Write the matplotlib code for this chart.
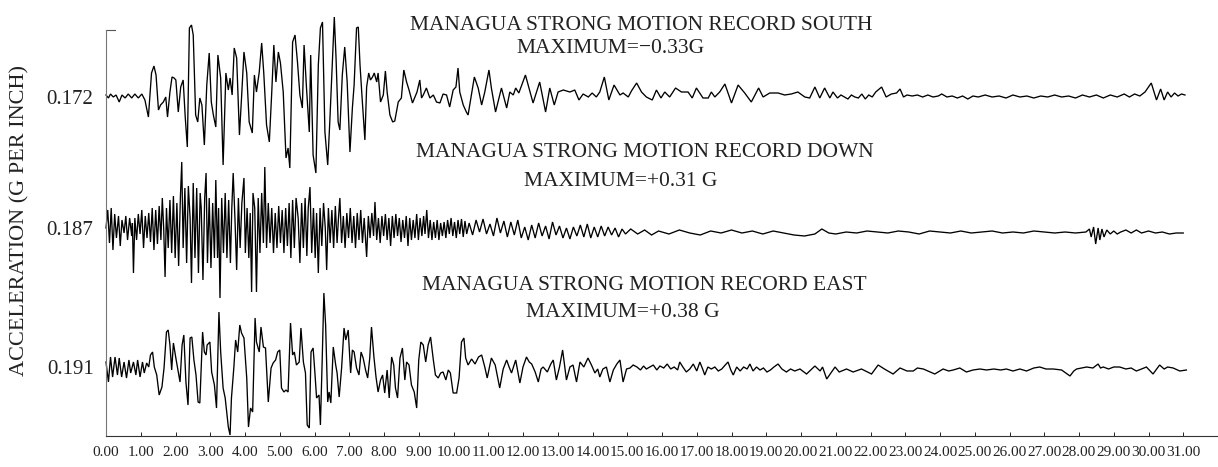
import matplotlib
matplotlib.use("Agg")
import matplotlib.pyplot as plt

plt.rcParams['font.family'] = ['Liberation Serif', 'DejaVu Serif']

# ---------------- data (time in s, deflection in plot units) ----------------
south_t = [0.00,0.07,0.13,0.21,0.29,0.38,0.46,0.55,0.64,0.74,0.83,0.93,1.03,1.12,1.22,1.31,1.38,1.44,1.51,1.57,
           1.65,1.72,1.77,1.84,1.90,1.96,2.01,2.08,2.15,2.22,2.28,2.34,2.40,2.46,2.51,2.58,2.64,2.70,2.76,2.83,
           2.90,2.97,3.03,3.09,3.16,3.22,3.30,3.37,3.45,3.52,3.57,3.63,3.69,3.76,3.84,3.90,3.97,4.05,4.12,4.21,
           4.27,4.33,4.41,4.48,4.54,4.62,4.70,4.77,4.83,4.89,4.96,5.02,5.10,5.18,5.24,5.29,5.37,5.44,5.51,5.58,
           5.65,5.70,5.77,5.85,5.89,5.96,6.04,6.11,6.17,6.23,6.30,6.38,6.44,6.51,6.57,6.62,6.68,6.73,6.80,6.87,
           6.94,7.02,7.09,7.14,7.21,7.26,7.31,7.37,7.45,7.50,7.56,7.61,7.67,7.72,7.79,7.83,7.90,7.98,8.04,8.09,
           8.17,8.25,8.31,8.41,8.50,8.57,8.65,8.72,8.82,8.89,8.95,9.03,9.08,9.13,9.22,9.32,9.42,9.51,9.61,9.70,
           9.80,9.89,9.99,10.07,10.13,10.18,10.28,10.37,
           10.42,10.60,10.71,10.81,10.90,11.02,11.09,11.21,11.38,11.53,
           11.62,11.72,11.79,11.88,12.07,12.29,12.48,12.65,12.77,12.90,
           13.01,13.16,13.35,13.49,13.61,13.73,13.88,13.99,14.11,14.21,
           14.34,14.47,14.62,14.79,14.88,15.03,15.12,15.27,15.41,15.55,
           15.72,15.84,15.97,16.08,16.22,16.39,16.56,16.75,16.87,16.99,
           17.18,17.33,17.42,17.52,17.66,17.81,18.00,18.19,18.38,18.57,
           18.78,18.91,19.10,19.34,19.53,19.72,19.91,20.11,20.25,20.40,
           20.54,20.68,20.83,20.92,
           21.05,21.15,21.25,21.35,21.45,21.55,21.65,21.75,21.85,21.95,22.05,
           22.15,22.32,22.45,22.60,22.75,22.85,22.95,23.05,23.20,23.35,23.50,23.65,23.80,23.95,24.05,24.20,24.35,
           24.50,24.65,24.80,24.95,25.10,25.30,25.50,25.70,25.90,26.10,26.30,26.50,26.70,26.90,27.10,27.30,27.50,
           27.70,27.90,28.10,28.30,28.50,28.70,28.90,29.10,29.30,29.45,29.60,29.75,29.90,30.08,30.23,30.35,30.45,
           30.55,30.65,30.75,30.85,30.95,31.05]
south_a = [2,-1,3,0,2,-5,2,-1,3,-1,3,-1,3,-3,-20,24,31,22,-13,-8,
           -5,0,-20,5,20,19,17,-15,10,17,-20,-50,69,72,62,-18,-25,-1,-8,-48,
           12,44,-5,-18,-30,42,19,-68,24,7,19,2,49,39,-38,-1,45,24,-25,-36,
           22,5,25,54,24,-28,-45,5,52,15,45,34,5,-61,-51,-71,55,62,35,2,
           -11,52,9,-35,42,-58,-76,32,69,75,-35,-68,-25,32,80,39,-25,-33,22,50,
           15,-55,-11,12,69,70,32,-1,-43,10,24,17,20,24,15,24,-5,2,26,5,
           -18,-25,-24,-5,-1,27,15,7,-6,0,5,17,-1,2,9,-1,2,-5,-6,3,
           2,-10,7,10,29,5,-8,-15,
           -18,20,9,-8,5,27,9,-15,9,-11,
           5,2,9,4,22,-6,15,-15,9,-8,
           5,7,5,7,-3,3,0,4,0,5,
           20,-3,12,2,4,0,6,14,5,0,
           -3,7,-1,5,0,9,5,5,-1,9,
           -1,-1,5,0,5,13,-6,12,4,-5,
           9,0,4,4,2,3,5,0,-1,10,
           -1,9,-1,5,
           -1,2,0,-2,2,0,-1,3,-2,2,0,
           5,10,0,3,4,8,0,2,1,2,0,2,0,1,3,0,1,
           -1,1,-2,1,0,2,0,1,-1,2,0,1,-1,1,0,2,0,
           1,-1,2,0,2,-1,2,0,3,0,3,1,5,14,-3,8,-3,
           5,0,4,1,3,2]

down_t = [0.00,0.05,0.10,0.15,0.20,0.25,0.30,0.36,0.41,0.46,0.52,0.57,0.62,0.68,0.74,0.76,0.79,0.83,0.88,0.93,
          0.98,1.03,1.08,1.13,1.18,1.23,1.28,1.33,1.38,1.43,1.48,1.53,1.58,1.62,1.66,1.70,1.74,1.79,1.84,1.89,
          1.94,1.99,2.04,2.09,2.14,2.18,2.22,2.27,2.32,2.37,2.42,2.46,2.51,2.56,2.61,2.66,2.71,2.74,2.79,2.84,
          2.88,2.92,2.97,3.02,3.07,3.12,3.16,3.21,3.24,3.28,3.33,3.38,3.43,3.48,3.53,3.58,3.62,3.66,3.71,3.76,
          3.81,3.86,3.91,3.97,4.01,4.06,4.11,4.15,4.19,4.23,4.28,4.33,4.38,4.43,4.48,4.53,4.57,4.62,4.67,4.72,
          4.77,4.82,4.87,4.92,4.97,5.02,5.07,5.12,5.17,5.22,5.27,5.32,5.37,5.42,5.47,5.53,5.58,5.63,5.68,5.73,
          5.78,5.82,5.87,5.92,5.97,6.02,6.06,6.11,6.16,6.21,6.26,6.31,6.35,6.40,6.45,6.50,6.55,6.60,6.65,6.69,
          6.73,6.78,6.83,6.88,6.93,6.98,7.03,7.08,7.13,7.18,7.23,7.28,7.33,7.38,7.43,7.50,7.55,7.60,7.65,7.70,
          7.74,7.79,7.84,7.89,7.94,7.99,8.04,8.09,8.14,8.19,8.24,8.29,8.34,8.39,8.44,8.49,8.54,8.59,8.64,8.69,
          8.74,8.79,8.84,8.89,8.94,8.99,9.04,9.09,9.14,9.18,9.23,9.28,9.33,9.38,9.43,9.48,9.53,9.58,9.63,9.68,
          9.73,9.78,9.83,9.88,9.93,9.98,10.03,10.08,10.13,10.18,10.23,10.28,10.33,10.38,
          10.45,10.55,10.65,10.75,10.85,10.95,11.05,11.15,11.25,11.35,11.45,11.55,11.65,11.75,11.85,11.95,
          12.05,12.15,12.25,12.35,12.45,12.55,12.65,12.75,12.85,12.95,13.05,13.15,13.25,13.35,13.45,13.55,
          13.65,13.75,13.85,13.95,14.05,14.15,14.25,14.35,14.45,14.55,14.65,14.75,14.85,14.95,15.10,15.30,
          15.50,15.70,15.90,16.20,16.50,16.80,17.10,17.40,17.70,18.00,18.30,18.60,18.90,19.20,19.50,19.80,
          20.10,20.40,20.60,20.80,21.00,21.30,21.60,21.90,22.20,22.50,22.80,23.10,23.40,23.70,24.00,24.30,
          24.60,24.90,25.20,25.50,25.80,26.10,26.40,26.70,27.00,27.30,27.60,27.90,28.20,28.30,28.35,28.42,
          28.48,28.55,28.60,28.66,28.72,28.80,28.90,29.00,29.10,29.20,29.35,29.50,29.65,29.80,30.00,30.20,
          30.40,30.60,30.80,31.00]
down_a = [0,18,-15,20,-22,14,-10,12,-18,8,-5,12,-12,10,-8,5,-45,10,-12,14,
          -6,18,-20,12,-10,15,-14,20,-22,18,-16,22,-12,30,0,-49,20,-20,28,-25,
          32,-30,25,-38,30,66,-20,40,-35,42,10,-55,45,-30,40,-45,35,20,-52,30,
          55,-35,30,-40,25,-30,48,-30,20,-70,30,-25,35,-30,28,-35,20,55,10,-42,
          30,-20,25,50,-25,20,-30,15,-64,35,20,-64,30,-25,35,-15,61,-20,25,-15,
          20,-25,15,-20,22,-15,18,-25,20,-18,25,-30,28,-20,30,10,-35,25,-20,30,
          -28,20,41,-25,20,-30,15,-45,20,-18,25,0,-42,20,-15,18,-20,22,-15,10,
          30,-15,12,-20,15,-10,20,-15,12,-20,15,-12,18,-15,10,-29,12,-10,15,-8,
          26,-12,10,-15,12,-8,14,-12,10,-18,12,-10,14,-8,10,-14,8,-10,12,-18,
          10,-12,8,-10,14,-12,10,-8,12,-6,18,-10,8,-12,6,-10,8,-12,5,-8,
          6,-10,8,-6,10,-8,6,-10,8,-6,9,-9,7,-6,
          5,-7,8,-4,9,-6,4,-8,10,-5,7,-9,6,-7,8,-10,
          1,-12,3,-10,5,-8,2,-11,6,-7,2,-10,0,-11,1,-8,
          3,-9,4,-10,1,-9,2,-8,1,-7,0,-9,-1,-6,-1,-6,
          -2,-7,-3,-6,-2,-5,-7,-3,-5,-2,-5,-3,-6,-3,-5,-7,
          -8,-6,-1,-5,-6,-4,-5,-3,-4,-5,-3,-4,-6,-3,-4,-5,
          -3,-5,-4,-3,-5,-4,-5,-3,-4,-5,-4,-5,-4,-1,-9,1,
          -16,0,-12,-1,-9,-2,-6,-3,-6,-4,-2,-5,-2,-5,-3,-5,
          -4,-6,-5,-5]

east_t = [0.00,0.07,0.13,0.19,0.26,0.33,0.38,0.45,0.52,0.59,0.66,0.71,0.79,0.86,0.91,0.98,1.05,1.10,1.17,1.23,
          1.28,1.34,1.39,1.46,1.53,1.61,1.67,1.74,1.79,1.84,1.89,1.94,2.01,2.08,2.13,2.19,2.24,2.30,2.36,2.42,
          2.47,2.53,2.59,2.65,2.70,2.78,2.83,2.88,2.91,2.99,3.04,3.12,3.18,3.25,3.30,3.37,3.43,3.52,3.57,3.61,
          3.68,3.73,3.79,3.85,3.90,3.97,4.05,4.10,4.16,4.22,4.29,4.33,4.41,4.46,4.53,4.59,4.67,4.75,4.81,4.88,
          4.94,5.00,5.05,5.12,5.18,5.24,5.31,5.37,5.42,5.48,5.56,5.61,5.68,5.74,5.79,5.85,5.90,5.96,6.01,6.06,
          6.13,6.17,6.22,6.27,6.32,6.38,6.42,6.47,6.54,6.61,6.65,6.71,6.78,6.85,6.90,6.97,7.04,7.09,7.14,7.21,
          7.28,7.34,7.40,7.47,7.53,7.59,7.64,7.71,7.77,7.83,7.90,7.96,8.02,8.09,8.15,8.22,8.28,8.33,8.39,8.46,
          8.53,8.60,8.65,8.72,8.79,8.87,8.94,9.00,9.06,9.13,9.20,9.27,9.34,9.42,9.48,9.56,9.63,9.70,9.78,9.85,
          9.91,9.99,10.09,10.16,10.23,10.30,10.35,10.42,
          10.52,10.62,10.72,10.81,10.90,10.97,11.09,11.20,11.33,11.43,11.53,11.60,11.67,11.79,11.91,12.00,
          12.10,12.18,12.25,12.35,12.44,12.52,12.58,12.70,12.80,12.87,12.96,13.05,13.14,13.25,13.35,13.44,
          13.54,13.64,13.75,13.87,13.97,14.07,14.15,14.21,14.30,14.40,14.50,14.60,14.70,14.79,14.88,14.98,
          15.08,15.17,15.28,15.38,15.47,15.55,15.65,15.75,15.85,15.94,16.05,16.15,16.25,16.35,16.45,16.51,
          16.60,16.70,16.80,16.90,17.00,17.09,17.18,17.23,17.32,17.42,17.52,17.62,17.72,17.82,17.90,17.98,
          18.05,18.15,18.25,18.35,18.45,18.53,18.62,18.72,18.82,18.92,19.02,19.12,19.22,19.34,19.45,19.58,
          19.70,19.82,19.97,20.16,20.40,20.55,20.62,20.74,20.98,21.10,21.31,21.50,21.74,22.03,22.22,22.40,
          22.65,22.85,23.05,23.23,23.35,23.52,23.85,24.09,24.25,24.38,24.57,24.76,24.95,25.15,25.34,25.55,
          25.75,25.91,26.10,26.30,26.49,26.70,26.87,27.05,27.26,27.50,27.74,27.85,27.93,28.22,28.40,28.55,
          28.62,28.70,28.85,29.00,29.17,29.35,29.50,29.65,29.80,29.94,30.13,30.32,30.45,30.55,30.71,30.90,
          31.09]
east_a = [5,-15,10,-10,10,-8,9,-10,5,-11,7,-6,5,-8,7,-10,5,-6,4,0,
          12,15,0,-8,-28,-20,-1,35,37,22,-3,24,9,-5,-15,22,32,-15,-38,29,
          30,7,-8,-35,-36,35,15,12,22,25,-5,-18,-41,55,15,-21,-31,-60,-68,-31,
          0,27,15,42,34,29,-11,-60,-41,-45,49,25,15,40,20,19,-35,-1,4,7,
          15,17,-21,-25,-23,-25,44,12,15,2,5,39,5,-6,-58,-61,15,19,-5,-31,
          -28,-58,5,74,42,-35,-25,-36,20,2,-6,-30,-1,39,27,37,-6,17,15,-1,
          -8,15,9,-3,-11,9,40,10,-10,-25,-13,-8,-26,-3,-31,10,2,-21,-31,9,
          19,-13,5,2,-18,-25,-41,7,25,22,5,22,30,7,-8,-11,-6,-5,-13,-3,
          -6,-26,-26,-11,25,29,9,2,
          8,3,10,12,0,-11,9,2,-21,-2,7,0,-6,7,-16,0,
          10,5,3,-5,-15,-2,0,-5,3,7,-13,0,17,-13,0,2,
          -15,5,0,9,2,-6,-2,-10,-2,0,-15,-3,3,7,-15,-2,
          -1,2,0,-3,1,-2,0,2,-3,1,-1,3,-2,0,-3,5,
          0,-5,-2,3,-4,5,-3,-8,0,-2,0,-4,-2,2,5,-3,
          -8,0,-4,0,-2,3,-4,0,-3,-1,-5,-3,0,3,-2,-5,
          -2,-4,-2,-7,1,-4,0,-12,0,-5,-2,-5,-2,-7,2,-2,
          -7,-1,-4,-4,-1,-2,-7,-2,-4,-3,-1,-5,-3,-2,-3,-2,
          -3,-2,-4,-2,-4,-1,0,-2,-2,-3,-9,-4,-2,0,-1,3,
          -1,0,-2,0,0,-2,-1,-4,-2,0,-7,2,-2,0,-1,-4,
          -3]

component_names = ["SOUTH", "DOWN", "EAST"]
component_max = ["\u22120.33G", "+0.31 G", "+0.38 G"]
scale_labels = ["0.172", "0.187", "0.191"]
time_ticks = list(range(0, 32))

# ---------------- layout ----------------
W, H = 1218, 467
fig = plt.figure(figsize=(W / 100, H / 100), dpi=100)
ax = fig.add_axes([106 / W, 31 / H, (W - 106) / W, 406 / H])
ax.set_xlim(0, 32)
ax.set_ylim(0, 406)

offsets = [339, 208, 69]
traces = [(south_t, south_a), (down_t, down_a), (east_t, east_a)]
for (tt, aa), off in zip(traces, offsets):
    ax.plot(tt, [off + v for v in aa], color='black', lw=0.95, clip_on=False,
            solid_joinstyle='miter')

ax.spines['top'].set_visible(False)
ax.spines['right'].set_visible(False)
ax.spines['left'].set_color('#777777')
ax.spines['left'].set_linewidth(0.8)
ax.spines['bottom'].set_color('#333333')
ax.spines['bottom'].set_linewidth(0.8)
ax.plot([0, 0.27], [406, 406], color='#555555', lw=0.8, clip_on=False)

ax.set_xticks(time_ticks)
ax.set_xticklabels([f"{v:.2f}" for v in time_ticks])
ax.tick_params(axis='x', direction='in', length=3, width=0.7, pad=7,
               labelsize=11, colors='#222222')
ax.set_yticks(offsets)
ax.set_yticklabels(scale_labels)
ax.tick_params(axis='y', length=0, pad=9, labelsize=15, colors='#222222')

# titles (pixel positions of the reference converted to figure fraction)
def ftext(x, y, s, **kw):
    fig.text(x / W, 1 - y / H, s, ha='center', va='baseline', fontsize=15.5,
             color='#222222', **kw)

title_pos = [(641, 30, 610, 53), (645, 157, 621, 186), (644, 290, 623, 317)]
for name, mx, (x1, y1, x2, y2) in zip(component_names, component_max, title_pos):
    ftext(x1, y1, f"MANAGUA STRONG MOTION RECORD {name}")
    ftext(x2, y2, f"MAXIMUM={mx}")

fig.text(20 / W, 1 - 221 / H, "ACCELERATION (G PER INCH)", rotation=90,
         ha='center', va='center', fontsize=16, color='#222222')

fig.savefig("out.png", dpi=100)
